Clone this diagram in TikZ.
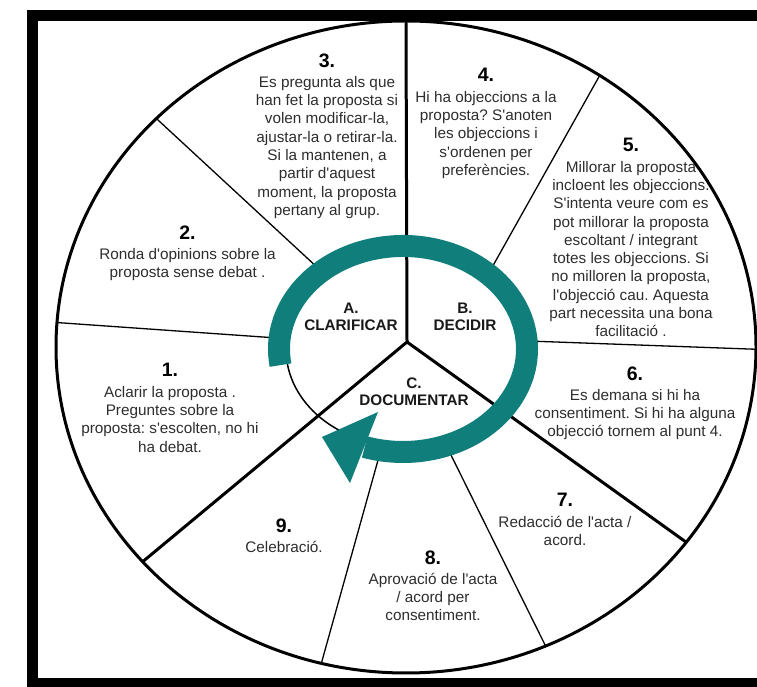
\documentclass[tikz,border=0pt]{standalone}
\definecolor{wheelteal}{RGB}{16,126,122}
\definecolor{bodygray}{RGB}{45,45,45}
\usepackage{fontspec}
\setmainfont{Liberation Sans}
\usepackage{tikz}
\usetikzlibrary{positioning}
\frenchspacing
\newcommand{\sq}{\textquotesingle}
\newcommand{\stepnum}[1]{{\fontsize{19.5}{19.5}\selectfont\bfseries\color{black}#1}}

\begin{document}
\begin{tikzpicture}[x=1pt, y=1pt,
    steptext/.style={align=center, anchor=north, inner sep=0pt, text=bodygray, font=\fontsize{15.3}{18.3}\selectfont},
    phasetext/.style={align=center, inner sep=0pt, text=black!90, font=\fontsize{15.3}{17}\selectfont\bfseries},
    thinsep/.style={line width=1.3pt},
    thicksep/.style={line width=3pt}]
    \useasboundingbox (0,0) rectangle (757,687);
    \draw[line width=11pt] (32,3.5) rectangle (763,671.5);

    \begin{scope}[shift={(406,340)}]
    \coordinate (hub) at (1,5);
    \draw[line width=3pt] (0,0) ellipse [x radius=350, y radius=326];

    \draw[thicksep] (hub) -- (90:350 and 326);
    \draw[thicksep] (hub) -- (221.2:350 and 326);
    \draw[thicksep] (hub) -- (323.2:350 and 326);

    \draw[thinsep] (84,76) -- (56.4:350 and 326);
    \draw[thinsep] (-87,78) -- (135.5:350 and 326);
    \draw[thinsep] (-129,9) -- (175.7:350 and 326);
    \draw[thinsep] (122,6) -- (-0.4:350 and 326);
    \draw[thinsep] (-26,-106) -- (256:350 and 326);
    \draw[thinsep] (42,-102) -- (293.5:350 and 326);

    \draw[line width=1.5pt] (-3,-2) ellipse [x radius=117, y radius=97];

    \begin{scope}[shift={(-3,-2)}]
    \draw[wheelteal, line width=22pt] (189:124 and 103) arc[start angle=189, end angle=-108, x radius=124, y radius=103];
    \fill[wheelteal] (-25,-63) -- (-81,-88) -- (-53,-134) -- cycle;
    \end{scope}

    \node[phasetext] (phaseA) at (-55,30.5) {A.\\CLARIFICAR};
    \node[phasetext] (phaseB) at (59,30.5) {B.\\DECIDIR};
    \node[phasetext] (phaseC) at (8,-44.5) {C.\\DOCUMENTAR};

    \node[steptext] (step1) at (-236,-16.2) {\stepnum{1.}\\[2pt]Aclarir la proposta .\\Preguntes sobre la\\proposta: s\sq escolten, no hi\\ha debat.};
    \node[steptext] (step2) at (-218.5,121.8) {\stepnum{2.}\\[2pt]Ronda d\sq opinions sobre la\\proposta sense debat .};
    \node[steptext] (step3) at (-79,293.8) {\stepnum{3.}\\[2pt]Es pregunta als que\\han fet la proposta si\\volen modificar-la,\\ajustar-la o retirar-la.\\Si la mantenen, a\\partir d\sq aquest\\moment, la proposta\\pertany al grup.};
    \node[steptext] (step4) at (80,278.8) {\stepnum{4.}\\[2pt]Hi ha objeccions a la\\proposta? S\sq anoten\\les objeccions i\\s\sq ordenen per\\preferències.};
    \node[steptext] (step5) at (225,208.8) {\stepnum{5.}\\[2pt]Millorar la proposta\\incloent les objeccions.\\S\sq intenta veure com es\\pot millorar la proposta\\escoltant / integrant\\totes les objeccions. Si\\no milloren la proposta,\\l\sq objecció cau. Aquesta\\part necessita una bona\\facilitació .};
    \node[steptext] (step6) at (229,-19.2) {\stepnum{6.}\\[2pt]Es demana si hi ha\\consentiment. Si hi ha alguna\\objecció tornem al punt 4.};
    \node[steptext] (step7) at (159,-146.2) {\stepnum{7.}\\[2pt]Redacció de l\sq acta /\\acord.};
    \node[steptext] (step8) at (27,-203.2) {\stepnum{8.}\\[2pt]Aprovació de l\sq acta\\/ acord per\\consentiment.};
    \node[steptext] (step9) at (-122,-171.2) {\stepnum{9.}\\[2pt]Celebració.};
    \end{scope}
\end{tikzpicture}
\end{document}
